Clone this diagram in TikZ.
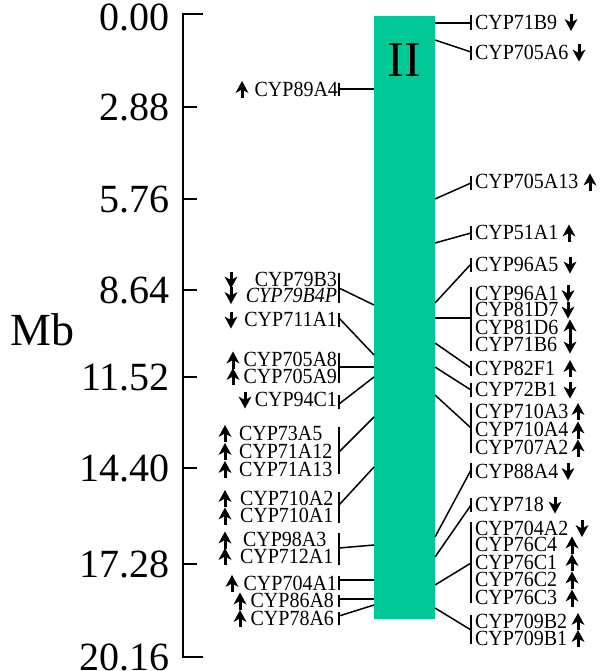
\documentclass[tikz,border=0pt]{standalone}
\usepackage{graphicx}
\usepackage{fontspec}
\setmainfont{Liberation Serif}
\definecolor{chrgreen}{RGB}{0,200,150}
\tikzset{
  conn/.style={line width=1.5pt},
  gene/.style={font=\fontsize{20}{20}\selectfont, inner sep=0pt, outer sep=0pt},
  tickl/.style={font=\fontsize{40}{40}\selectfont, inner sep=0pt, anchor=base east},
  stem/.style={line width=3pt},
}
% filled arrow glyphs: x, y (centre)
\newcommand\UpA[2]{\draw[stem] (#1,#2-2) -- (#1,#2+8.5);
  \fill (#1,#2-8.5) -- (#1+6.5,#2+3.5) -- (#1,#2) -- (#1-6.5,#2+3.5) -- cycle;}
\newcommand\DnA[2]{\draw[stem] (#1,#2+2) -- (#1,#2-8.5);
  \fill (#1,#2+8.5) -- (#1+6.5,#2-3.5) -- (#1,#2) -- (#1-6.5,#2-3.5) -- cycle;}
\newcommand\vs[1]{\scalebox{1}[1.08]{#1}}
% right gene: id, y, text, dir, arrow x
\newcommand\RGene[5]{\node[gene,anchor=base west] (#1) at (475,#2+6.6) {\vs{#3}};
  \ifx U#4\UpA{#5}{#2}\else\DnA{#5}{#2}\fi}
% left gene: id, anchor, x, y, text, dir, arrow x
\newcommand\LGene[7]{\node[gene,anchor=base #2] (#1) at (#3,#4+6.6) {\vs{#5}};
  \ifx U#6\UpA{#7}{#4}\else\DnA{#7}{#4}\fi}
% right connector: id, y at chromosome, y at bracket, bracket top, bracket bottom
\newcommand\RConn[5]{\coordinate (#1c) at (435,#2); \coordinate (#1b) at (471,#3);
  \coordinate (#1t) at (471,#4); \coordinate (#1u) at (471,#5);
  \draw[conn] (#1c) -- (#1b); \draw[conn] (#1t) -- (#1u);}
\newcommand\LConn[5]{\coordinate (#1c) at (374,#2); \coordinate (#1b) at (339,#3);
  \coordinate (#1t) at (339,#4); \coordinate (#1u) at (339,#5);
  \draw[conn] (#1c) -- (#1b); \draw[conn] (#1t) -- (#1u);}
\begin{document}
\begin{tikzpicture}[x=1pt,y=-1pt]
\useasboundingbox (0,0) rectangle (600,671);
% axis
\coordinate (atop) at (203,14); \coordinate (abot) at (203,657);
\draw[conn] (atop) -- (183,14) -- (183,657) -- (abot);
\foreach \y/\ly/\t [count=\i] in {14/17/0.00,107/107/2.88,199/199/5.76,290/290/8.64,377/377/11.52,468/468/14.40,564/564/17.28,657/657/20.16}{
  \draw[conn] (183,\y) -- (197,\y);
  \node[tickl] (t\i) at (170,\ly+13.5) {\t};
}
\node[font=\fontsize{46}{46}\selectfont, inner sep=0pt, anchor=base west] (mb) at (10,345) {Mb};
% chromosome
\node[fill=chrgreen, draw=none, inner sep=0pt, minimum width=61pt, minimum height=603pt] (chr) at (404.5,317.5) {};
\node[font=\fontsize{50}{50}\selectfont, inner sep=0pt, anchor=base] (num) at (404,77) {II};
% right connectors
\RConn{c1}{23}{23}{15}{30}
\RConn{c2}{40}{52}{46}{60}
\RConn{c3}{199}{183}{176}{190}
\RConn{c4}{243}{233}{226}{240}
\RConn{c5}{303}{264}{258}{272}
\RConn{c6}{318}{318}{287}{351}
\RConn{c7}{343}{368}{361}{376}
\RConn{c8}{367}{390}{383}{397}
\RConn{c9}{395}{428}{403}{453}
\RConn{c10}{537}{470}{463}{478}
\RConn{c11}{557}{505}{498}{512}
\RConn{c12}{585}{563}{522}{603}
\RConn{c13}{608}{630}{615}{644}
% left connectors
\LConn{d1}{89}{89}{83}{96}
\LConn{d2}{305}{288}{273}{303}
\LConn{d3}{355}{318}{313}{327}
\LConn{d4}{367}{367}{353}{383}
\LConn{d5}{377}{404}{395}{409}
\LConn{d6}{417}{452}{427}{474}
\LConn{d7}{467}{505}{492}{523}
\LConn{d8}{545}{548}{533}{565}
\LConn{d9}{580}{580}{576}{590}
\LConn{d10}{599}{599}{595}{607}
\LConn{d11}{605}{616}{612}{625}
% right genes
\RGene{r1}{22.5}{CYP71B9}{D}{571}
\RGene{r2}{53}{CYP705A6}{D}{579}
\RGene{r3}{182}{CYP705A13}{U}{590}
\RGene{r4}{233}{CYP51A1}{U}{569}
\RGene{r5}{265}{CYP96A5}{D}{570}
\RGene{r6}{293.5}{CYP96A1}{D}{568}
\RGene{r7}{310}{CYP81D7}{D}{568}
\RGene{r8}{328}{CYP81D6}{U}{570}
\RGene{r9}{345}{CYP71B6}{D}{570}
\RGene{r10}{368.5}{CYP82F1}{U}{570}
\RGene{r11}{390}{CYP72B1}{D}{570}
\RGene{r12}{411.5}{CYP710A3}{U}{578}
\RGene{r13}{430}{CYP710A4}{U}{578}
\RGene{r14}{448}{CYP707A2}{U}{578}
\RGene{r15}{471.5}{CYP88A4}{D}{568}
\RGene{r16}{505}{CYP718}{D}{555}
\RGene{r17}{528.5}{CYP704A2}{D}{582}
\RGene{r18}{545}{CYP76C4}{U}{572}
\RGene{r19}{562.5}{CYP76C1}{U}{572}
\RGene{r20}{580}{CYP76C2}{U}{572}
\RGene{r21}{598}{CYP76C3}{U}{572}
\RGene{r22}{621.5}{CYP709B2}{U}{578}
\RGene{r23}{638.5}{CYP709B1}{U}{578}
% left genes
\LGene{l1}{east}{338}{89.5}{CYP89A4}{U}{242}
\LGene{l2}{east}{337}{280}{CYP79B3}{D}{231}
\LGene{l3}{east}{337}{295.5}{\textit{CYP79B4P}}{D}{231}
\LGene{l4}{east}{337}{320}{CYP711A1}{D}{231}
\LGene{l5}{east}{337}{360}{CYP705A8}{U}{233}
\LGene{l6}{east}{337}{376.5}{CYP705A9}{U}{233}
\LGene{l7}{east}{337}{400}{CYP94C1}{D}{245}
\LGene{l8}{west}{239}{433.5}{CYP73A5}{U}{225}
\LGene{l9}{west}{239}{451.5}{CYP71A12}{U}{225}
\LGene{l10}{west}{239}{469.5}{CYP71A13}{U}{225}
\LGene{l11}{west}{240}{498.5}{CYP710A2}{U}{225}
\LGene{l12}{west}{240}{516}{CYP710A1}{U}{225}
\LGene{l13}{west}{243}{540}{CYP98A3}{U}{225}
\LGene{l14}{west}{240}{556.5}{CYP712A1}{U}{225}
\LGene{l15}{east}{337}{583.5}{CYP704A1}{U}{232}
\LGene{l16}{east}{334}{601}{CYP86A8}{U}{240}
\LGene{l17}{east}{334}{618.5}{CYP78A6}{U}{240}
\end{tikzpicture}
\end{document}
